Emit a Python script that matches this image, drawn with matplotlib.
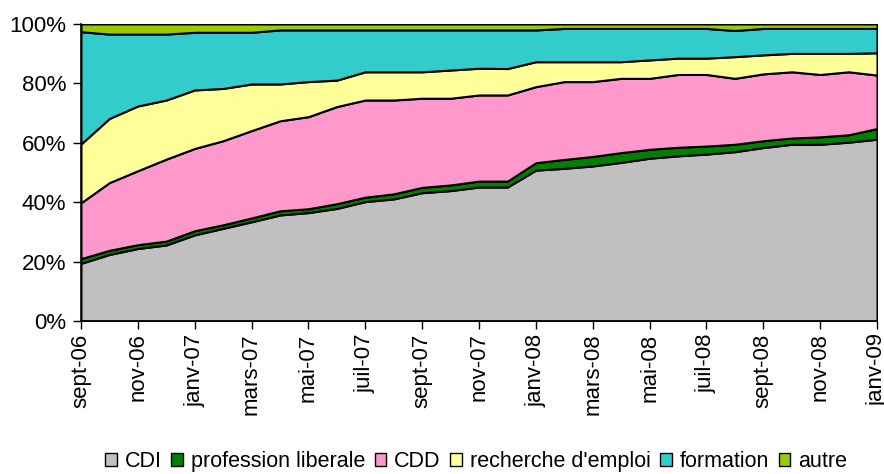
import numpy as np
import matplotlib
matplotlib.use('Agg')
import matplotlib.pyplot as plt
from matplotlib.patches import Patch

plt.rcParams['font.family'] = ['Liberation Sans', 'DejaVu Sans']

# monthly data, sept-06 .. janv-09 (share in %)
months = ['sept-06', 'oct-06', 'nov-06', 'déc-06', 'janv-07', 'févr-07', 'mars-07',
          'avr-07', 'mai-07', 'juin-07', 'juil-07', 'août-07', 'sept-07', 'oct-07',
          'nov-07', 'déc-07', 'janv-08', 'févr-08', 'mars-08', 'avr-08', 'mai-08',
          'juin-08', 'juil-08', 'août-08', 'sept-08', 'oct-08', 'nov-08', 'déc-08',
          'janv-09']

cdi = [19.4, 22.4, 24.4, 25.6, 29.0, 31.2, 33.4, 35.7, 36.5, 37.9, 40.2, 41.1, 43.2, 43.9,
       45.1, 45.1, 50.8, 51.4, 52.2, 53.4, 54.8, 55.6, 56.2, 57.0, 58.4, 59.5, 59.5, 60.2, 61.2]
prof_lib = [1.6, 1.4, 1.3, 1.3, 1.4, 1.2, 1.3, 1.4, 1.3, 1.6, 1.5, 1.7, 1.8, 1.9,
            2.0, 2.0, 2.5, 3.0, 3.2, 3.3, 3.0, 2.9, 2.7, 2.5, 2.3, 2.1, 2.5, 2.5, 3.6]
cdd = [18.8, 22.8, 24.9, 27.6, 27.7, 28.3, 29.4, 30.3, 31.0, 32.7, 32.7, 31.6, 30.0, 29.2,
       29.0, 29.0, 25.6, 26.2, 25.2, 25.0, 23.9, 24.5, 24.1, 22.2, 22.5, 22.3, 21.0, 21.2, 18.0]
recherche = [19.8, 21.6, 21.8, 19.9, 19.7, 17.6, 15.7, 12.4, 11.8, 8.9, 9.5, 9.5, 8.9, 9.5,
             9.0, 8.9, 8.4, 6.7, 6.7, 5.6, 6.2, 5.5, 5.5, 7.3, 6.4, 6.2, 7.1, 6.2, 7.5]
formation = [37.8, 28.4, 24.2, 22.2, 19.4, 18.9, 17.4, 18.2, 17.4, 16.9, 14.1, 14.1, 14.1, 13.5,
             12.9, 13.0, 10.7, 11.2, 11.2, 11.2, 10.6, 10.0, 10.0, 8.8, 8.9, 8.4, 8.4, 8.4, 8.2]
autre = [2.6, 3.4, 3.4, 3.4, 2.8, 2.8, 2.8, 2.0, 2.0, 2.0, 2.0, 2.0, 2.0, 2.0,
         2.0, 2.0, 2.0, 1.5, 1.5, 1.5, 1.5, 1.5, 1.5, 2.2, 1.5, 1.5, 1.5, 1.5, 1.5]

labels = ['CDI', 'profession liberale', 'CDD', "recherche d'emploi", 'formation', 'autre']
colors = ['#C0C0C0', '#008000', '#FF99CC', '#FFFF99', '#33CCCC', '#99CC00']

data = np.array([cdi, prof_lib, cdd, recherche, formation, autre])
data = data / data.sum(axis=0) * 100  # 100% stacked
x = np.arange(len(months))

fig = plt.figure(figsize=(8.84, 4.74), dpi=100)
ax = fig.add_axes([0.0916, 0.3228, 0.9005, 0.6266])

ax.stackplot(x, data, colors=colors, edgecolor='black', linewidth=1.5)

ax.set_xlim(0, len(months) - 1)
ax.set_ylim(0, 100)
ax.set_yticks(range(0, 101, 20))
ax.set_yticklabels([f'{v}%' for v in range(0, 101, 20)], fontsize=16)
ax.set_xticks(x[::2])
ax.set_xticklabels(months[::2], rotation=90, fontsize=16)
ax.tick_params(axis='both', direction='out', length=5.5, width=1, colors='black')
ax.tick_params(axis='y', pad=5)

ax.spines['top'].set_visible(False)
ax.spines['right'].set_visible(False)
ax.spines['left'].set_linewidth(1.2)
ax.spines['bottom'].set_linewidth(1.2)

handles = [Patch(facecolor=c, edgecolor='black', linewidth=1) for c in colors]
fig.legend(handles, labels, loc='center', bbox_to_anchor=(0.5385, 0.026), ncol=6,
           frameon=False, fontsize=15.5, handlelength=0.55, handleheight=0.55,
           handletextpad=0.35, columnspacing=0.45, borderaxespad=0, borderpad=0)

fig.savefig('out.png', dpi=100)
